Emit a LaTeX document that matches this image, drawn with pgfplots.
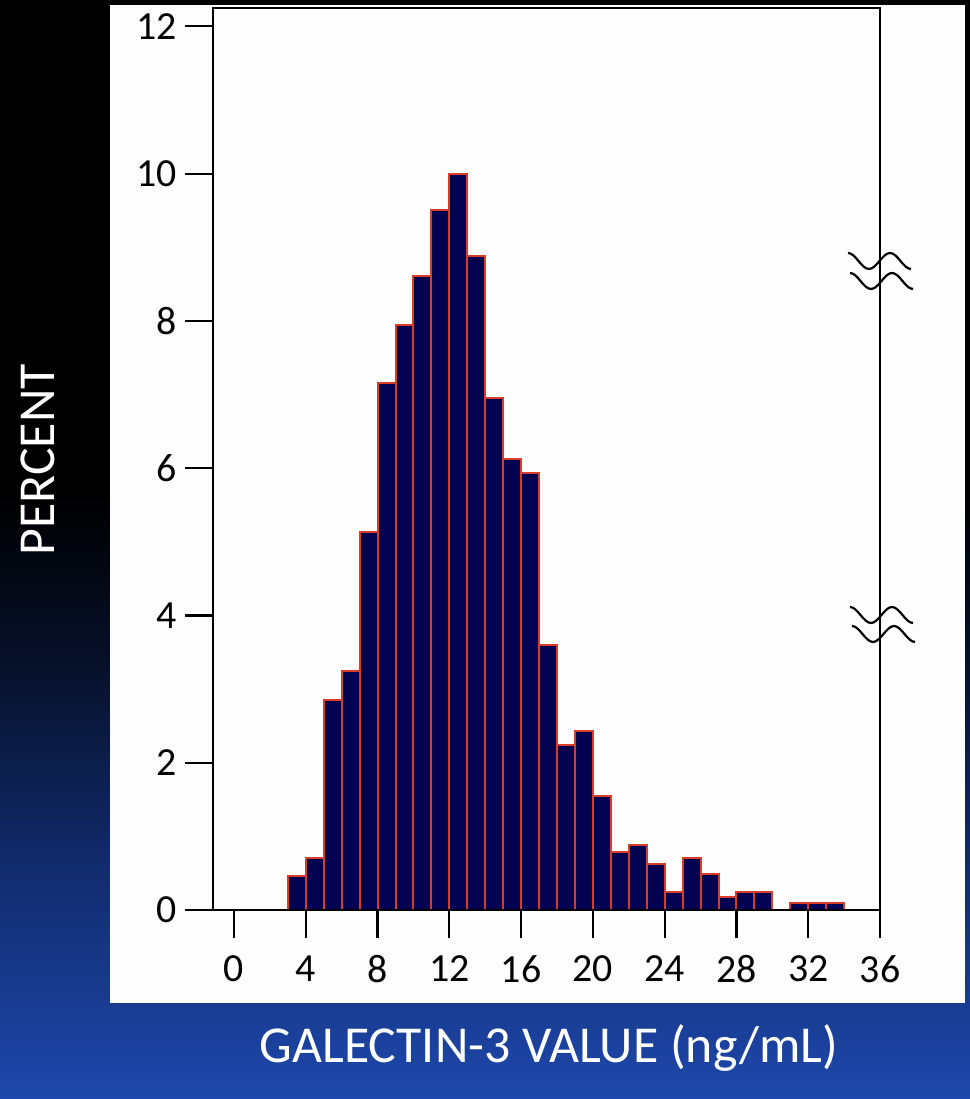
\documentclass[border=0pt]{standalone}
\usepackage{fontspec}
\setmainfont{Carlito}
\usepackage{pgfplots}
\pgfplotsset{compat=1.18}
\definecolor{barfill}{RGB}{2,2,80}
\definecolor{baredge}{RGB}{212,62,42}
\definecolor{bgA}{RGB}{30,72,172}
\definecolor{bgB}{RGB}{18,45,112}
\definecolor{bgC}{RGB}{6,16,40}
\definecolor{panel}{RGB}{253,253,253}
\pgfdeclareverticalshading{bgshade}{100bp}{color(0bp)=(bgA); color(25bp)=(bgA); color(35bp)=(bgB); color(45bp)=(bgC); color(52.5bp)=(black); color(100bp)=(black)}
\begin{document}
\begin{tikzpicture}
\begin{scope}[x=1bp,y=1bp]
\shade[shading=bgshade] (0,0) rectangle (970,1099);
\fill[panel] (110,96) rectangle (965,1094);
\end{scope}
\begin{axis}[
  at={(213bp,189bp)}, anchor=south west, scale only axis,
  width=667bp, height=902bp,
  xmin=-1.17, xmax=36, ymin=0, ymax=12.25,
  xtick={0,4,...,36}, ytick={0,2,...,12},
  tick pos=left, tick align=outside, major tick length=28bp,
  axis line style={line width=2.2bp},
  every tick/.style={black, line width=2.2bp},
  tick label style={font=\fontsize{40}{48}\selectfont},
  xticklabel style={yshift=-14bp},
  yticklabel style={xshift=-5bp},
  /pgf/number format/assume math mode=true,
  clip=false,
]
\addplot[ybar interval, fill=barfill, draw=baredge, line width=2bp] coordinates {
(3,0.46) (4,0.71) (5,2.85) (6,3.25) (7,5.14) (8,7.16) (9,7.94) (10,8.61)
(11,9.50) (12,9.99) (13,8.88) (14,6.95) (15,6.13) (16,5.94) (17,3.60)
(18,2.24) (19,2.43) (20,1.55) (21,0.79) (22,0.88) (23,0.63) (24,0.24)
(25,0.71) (26,0.49) (27,0.17) (28,0.24) (29,0.24) (30,0)
};
\addplot[ybar interval, fill=barfill, draw=baredge, line width=2bp] coordinates {
(31,0.09) (32,0.09) (33,0.09) (34,0)
};
\draw[line width=2.2bp] (axis cs:-1.17,0) -- (axis cs:36,0);
\end{axis}
\begin{scope}[x=1bp,y=1bp]
% axis break marks on the right axis
\draw[line width=2.2bp] (848,846) cos (858.5,838) sin (869,830) cos (879.5,838) sin (890,846) cos (900.5,838) sin (911,830);
\draw[line width=2.2bp] (850,826) cos (860.5,818) sin (871,810) cos (881.5,818) sin (892,826) cos (902.5,818) sin (913,810);
\draw[line width=2.2bp] (850,492) cos (860.5,484) sin (871,476) cos (881.5,484) sin (892,492) cos (902.5,484) sin (913,476);
\draw[line width=2.2bp] (852,473) cos (862.5,465) sin (873,457) cos (883.5,465) sin (894,473) cos (904.5,465) sin (915,457);
\node[white, rotate=90, font=\fontsize{52}{60}\selectfont] at (38,639) {PERCENT};
\node[white, font=\fontsize{52}{60}\selectfont] at (549,51) {GALECTIN-3 VALUE (ng/mL)};
\end{scope}
\end{tikzpicture}
\end{document}
